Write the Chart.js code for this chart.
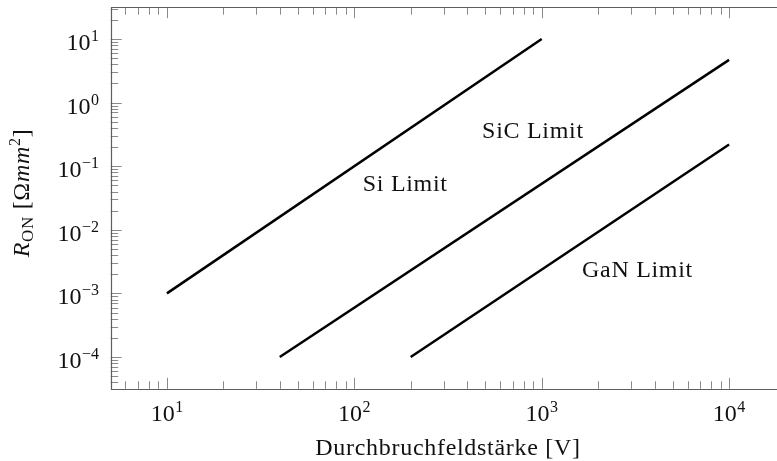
<!DOCTYPE html>
<html>
<head>
<meta charset="utf-8">
<script src="https://cdn.jsdelivr.net/npm/chart.js@4.4.1/dist/chart.umd.min.js"></script>
<style>
  html, body { margin: 0; padding: 0; background: #ffffff; overflow: hidden; }
  #wrap { width: 790px; height: 461px; }
</style>
</head>
<body>
<div id="wrap"><canvas id="chart" width="790" height="461"></canvas></div>
<script>
// Breakdown voltage (V) and specific on-resistance (Ohm mm^2) limits
const siVoltage  = [10, 1000];
const siRon      = [1e-3, 10];
const sicVoltage = [40, 10000];
const sicRon     = [1e-4, 4.7];
const ganVoltage = [200, 10000];
const ganRon     = [1e-4, 0.22];

// Material labels and where they sit (data coordinates)
const labelTexts = ['Si Limit', 'SiC Limit', 'GaN Limit'];
const labelAtV   = [187, 898, 3245];
const labelAtR   = [0.051, 0.354, 0.00231];

// Axis decades and their exponents
const xMajorTicks = [10, 100, 1000, 10000];
const xTickExps   = ['1', '2', '3', '4'];
const yMajorTicks = [1e-4, 1e-3, 1e-2, 1e-1, 1, 10];
const yTickExps   = ['\u22124', '\u22123', '\u22122', '\u22121', '0', '1'];

const xTitle = 'Durchbruchfeldst\u00e4rke [V]';

const SERIF = '"Liberation Serif", "DejaVu Serif", serif';
const BIG = 24, SMALL = 16;
const SPACING = '0.7px';

function pts(xs, ys) { return xs.map((x, i) => ({ x: x, y: ys[i] })); }

function minorValues(min, max) {
  const out = [];
  for (let k = Math.floor(Math.log10(min)); k <= Math.ceil(Math.log10(max)); k++) {
    for (let m = 2; m <= 9; m++) {
      const v = m * Math.pow(10, k);
      if (v >= min && v <= max) out.push(v);
    }
  }
  return out;
}

// Draws "10" with a raised exponent; align: 'center' or 'right'
function drawPower(ctx, exp, x, baseline, align) {
  ctx.font = BIG + 'px ' + SERIF;
  const wBase = ctx.measureText('10').width;
  ctx.font = SMALL + 'px ' + SERIF;
  const wExp = ctx.measureText(exp).width;
  const total = wBase + wExp + 0.5;
  const x0 = align === 'center' ? x - total / 2 : x - total;
  ctx.textAlign = 'left';
  ctx.textBaseline = 'alphabetic';
  ctx.font = BIG + 'px ' + SERIF;
  ctx.fillText('10', x0, baseline);
  ctx.font = SMALL + 'px ' + SERIF;
  ctx.fillText(exp, x0 + wBase + 0.5, baseline - 9);
}

const framePlugin = {
  id: 'frame',
  beforeDatasetsDraw(chart) {
    const { ctx, chartArea: a, scales } = chart;
    const sx = scales.x, sy = scales.y;
    ctx.save();
    ctx.lineWidth = 1;
    // tick marks pointing inward (bottom, top, left)
    ctx.strokeStyle = '#8a8a8a';
    const MAJ = 11, MIN = 7.5;
    const xMinor = minorValues(sx.min, sx.max);
    const yMinor = minorValues(sy.min, sy.max);
    ctx.beginPath();
    const xt = (v, len) => {
      const p = Math.round(sx.getPixelForValue(v)) + 0.5;
      ctx.moveTo(p, a.bottom); ctx.lineTo(p, a.bottom - len);
      ctx.moveTo(p, a.top); ctx.lineTo(p, a.top + len);
    };
    const yt = (v, len) => {
      const p = Math.round(sy.getPixelForValue(v)) + 0.5;
      ctx.moveTo(a.left, p); ctx.lineTo(a.left + len, p);
    };
    xMinor.forEach(v => xt(v, MIN));
    xMajorTicks.forEach(v => xt(v, MAJ));
    yMinor.forEach(v => yt(v, MIN));
    yMajorTicks.forEach(v => yt(v, MAJ));
    ctx.stroke();
    // axis lines
    ctx.strokeStyle = '#5e5e5e';
    ctx.lineWidth = 1.2;
    const L = Math.round(a.left) + 0.5, T = Math.round(a.top) + 0.5, B = Math.round(a.bottom) + 0.5;
    ctx.beginPath();
    ctx.moveTo(a.right + 10, T); ctx.lineTo(L, T); ctx.lineTo(L, B); ctx.lineTo(a.right + 10, B);
    ctx.stroke();
    ctx.restore();
  },
  afterDraw(chart) {
    const { ctx, chartArea: a, scales } = chart;
    const sx = scales.x, sy = scales.y;
    ctx.save();
    ctx.fillStyle = '#111111';
    // tick labels
    xMajorTicks.forEach((v, i) => drawPower(ctx, xTickExps[i], sx.getPixelForValue(v), 421, 'center'));
    yMajorTicks.forEach((v, i) => drawPower(ctx, yTickExps[i], 99, sy.getPixelForValue(v) + 11, 'right'));
    // x title
    ctx.letterSpacing = SPACING;
    ctx.font = BIG + 'px ' + SERIF;
    ctx.textAlign = 'center';
    ctx.textBaseline = 'alphabetic';
    ctx.fillText(xTitle, (a.left + a.right) / 2, 455);
    // y title: R_ON [Ωmm²]
    const parts = [
      { t: 'R',  f: 'italic ' + BIG + 'px ' + SERIF, dy: 0 },
      { t: 'ON', f: '17px ' + SERIF, dy: 3.5 },
      { t: ' [\u03a9', f: BIG + 'px ' + SERIF, dy: 0 },
      { t: 'mm', f: 'italic ' + BIG + 'px ' + SERIF, dy: 0 },
      { t: '2',  f: SMALL + 'px ' + SERIF, dy: -9 },
      { t: ']',  f: BIG + 'px ' + SERIF, dy: 0 }
    ];
    let total = 0;
    parts.forEach(p => { ctx.font = p.f; p.w = ctx.measureText(p.t).width; total += p.w; });
    ctx.translate(29, 193);
    ctx.rotate(-Math.PI / 2);
    ctx.textAlign = 'left';
    let cx = -total / 2;
    parts.forEach(p => { ctx.font = p.f; ctx.fillText(p.t, cx, p.dy); cx += p.w; });
    ctx.restore();

    // material labels
    ctx.save();
    ctx.fillStyle = '#111111';
    ctx.letterSpacing = SPACING;
    ctx.font = BIG + 'px ' + SERIF;
    ctx.textAlign = 'center';
    ctx.textBaseline = 'middle';
    labelTexts.forEach((t, i) => {
      ctx.fillText(t, sx.getPixelForValue(labelAtV[i]), sy.getPixelForValue(labelAtR[i]));
    });
    ctx.restore();
  }
};

const lineStyle = { borderColor: '#000000', borderWidth: 2.5, pointRadius: 0, fill: false, tension: 0, borderCapStyle: 'butt' };

new Chart(document.getElementById('chart'), {
  type: 'line',
  data: {
    datasets: [
      Object.assign({ label: 'Si Limit',  data: pts(siVoltage, siRon) }, lineStyle),
      Object.assign({ label: 'SiC Limit', data: pts(sicVoltage, sicRon) }, lineStyle),
      Object.assign({ label: 'GaN Limit', data: pts(ganVoltage, ganRon) }, lineStyle)
    ]
  },
  options: {
    responsive: false,
    animation: false,
    events: [],
    layout: { padding: { left: 110.7, top: 7.2, right: 790 - 785.3, bottom: 461 - 388.8 } },
    plugins: { legend: { display: false }, tooltip: { enabled: false } },
    scales: {
      x: { type: 'logarithmic', display: false, min: Math.pow(10, 0.7), max: Math.pow(10, 4.3) },
      y: { type: 'logarithmic', display: false, min: Math.pow(10, -4.5), max: Math.pow(10, 1.5) }
    }
  },
  plugins: [framePlugin]
});
</script>
</body>
</html>
